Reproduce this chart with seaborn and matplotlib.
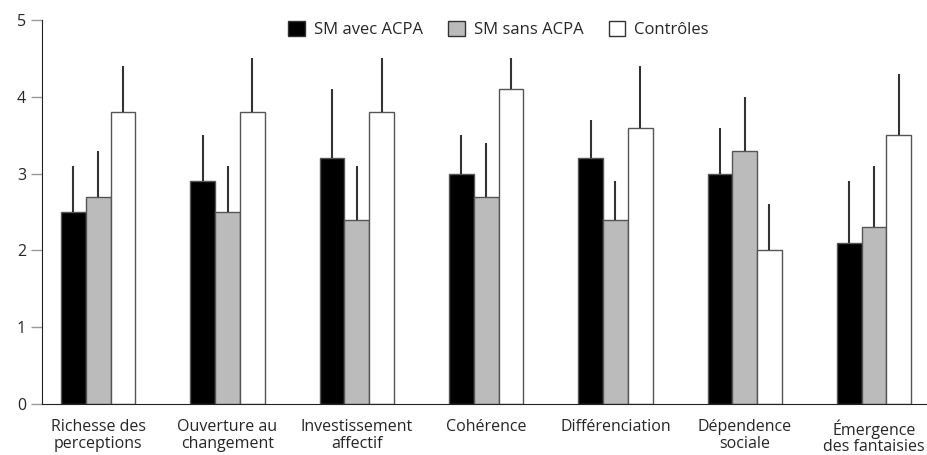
"""bar chart: SM avec/sans ACPA vs controles"""

import pandas as pd
import matplotlib.pyplot as plt
import seaborn as sns

categories = ["Richesse des\nperceptions", "Ouverture au\nchangement", "Investissement\naffectif",
              "Cohérence", "Différenciation", "Dépendence\nsociale", "Émergence\ndes fantaisies"]
groups = ["SM avec ACPA", "SM sans ACPA", "Contrôles"]

avec_acpa = [2.5, 2.9, 3.2, 3.0, 3.2, 3.0, 2.1]
sans_acpa = [2.7, 2.5, 2.4, 2.7, 2.4, 3.3, 2.3]
controles = [3.8, 3.8, 3.8, 4.1, 3.6, 2.0, 3.5]

err_avec = [0.6, 0.6, 0.9, 0.5, 0.5, 0.6, 0.8]
err_sans = [0.6, 0.6, 0.7, 0.7, 0.5, 0.7, 0.8]
err_ctrl = [0.6, 0.7, 0.7, 0.4, 0.8, 0.6, 0.8]

colors = ["#000000", "#bbbbbb", "#ffffff"]

df = pd.DataFrame({
    "cat": categories * 3,
    "group": [g for g in groups for _ in categories],
    "value": avec_acpa + sans_acpa + controles,
    "err": err_avec + err_sans + err_ctrl,
})

sns.set_style("ticks")
plt.rcParams["font.family"] = ["Open Sans", "DejaVu Sans"]

fig = plt.figure(figsize=(9.27, 4.55), dpi=100)
ax = fig.add_axes([0.0453, 0.112, 0.9547, 0.844])

sns.barplot(data=df, x="cat", y="value", hue="group", hue_order=groups,
            palette=colors, width=0.575, errorbar=None, edgecolor="#555555",
            linewidth=1.0, ax=ax)

# one-sided error bars from the top of each bar
for cont, g in zip(ax.containers, groups):
    errs = df[df["group"] == g]["err"].tolist()
    for bar, e in zip(cont, errs):
        xc = bar.get_x() + bar.get_width() / 2
        top = bar.get_height()
        ax.vlines(xc, top, top + e, color="#333333", linewidth=1.5, zorder=1)

ax.set_ylim(0, 5)
ax.set_xlim(-0.435, 6.41)
ax.set_yticks(range(6))
ax.set_xlabel("")
ax.set_ylabel("")
ax.tick_params(axis="y", length=8, color="#999999", labelsize=11.5, width=1)
ax.tick_params(axis="x", length=0, labelsize=11.5, pad=11)
for lab in ax.get_xticklabels():
    lab.set_linespacing(1.05)
sns.despine(ax=ax)
ax.spines["left"].set_color("#222222")
ax.spines["bottom"].set_color("#222222")

leg = ax.legend(loc="upper center", bbox_to_anchor=(0.516, 1.037), ncol=3, frameon=False,
                fontsize=12, handlelength=1.0, handleheight=1.0, columnspacing=1.5,
                handletextpad=0.55)
for h in leg.legend_handles:
    h.set_edgecolor("#333333")

plt.savefig("out.png")
plt.close()
